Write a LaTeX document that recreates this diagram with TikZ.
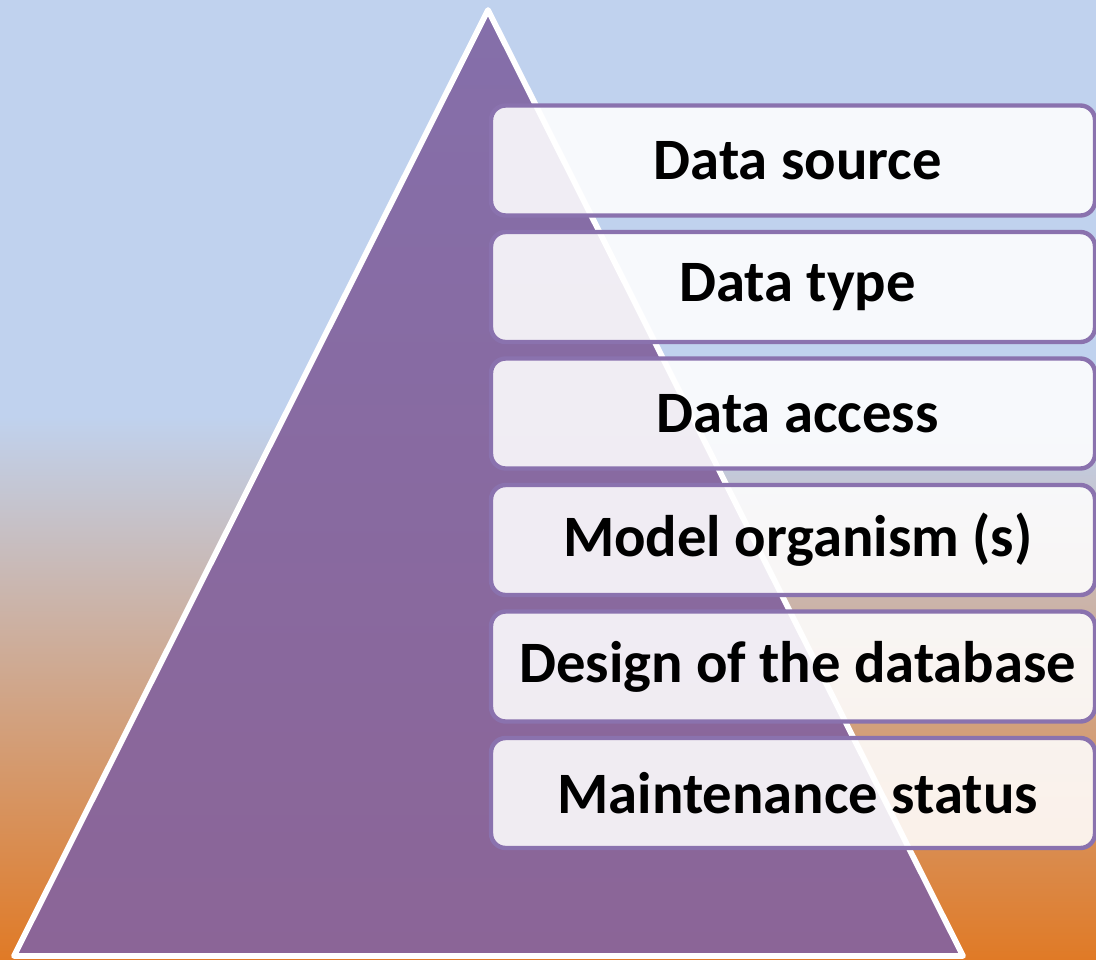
\documentclass[tikz,border=0pt]{standalone}
\usepackage{fontspec}
\setmainfont{Carlito}
\definecolor{bgblue}{RGB}{192,210,238}
\definecolor{bgorange}{RGB}{224,122,38}
\definecolor{tritop}{RGB}{133,111,170}
\definecolor{tribot}{RGB}{139,101,151}
\definecolor{boxborder}{RGB}{138,114,174}
\tikzset{
  itembox/.style={rectangle, rounded corners=11pt, draw=boxborder, line width=3.3pt,
    fill=white, fill opacity=0.88, text opacity=1, text=black,
    minimum width=453pt, minimum height=82.5pt, inner sep=0pt,
    font=\fontsize{44}{52}\selectfont\bfseries}
}
\begin{document}
\begin{tikzpicture}[x=0.75pt,y=-0.75pt]
\useasboundingbox (0,0) rectangle (1096,960);
\fill[bgblue] (0,0) rectangle (1096,418);
\shade[top color=bgblue,bottom color=bgorange] (0,416) rectangle (1096,960);
\coordinate (apex) at (488,10);
\coordinate (bl) at (14,956);
\coordinate (br) at (963,956);
\shade[top color=tritop,bottom color=tribot] (apex) -- (br) -- (bl) -- cycle;
\draw[white,line width=4.3pt,line join=round] (apex) -- (br) -- (bl) -- cycle;
\node[itembox] (b1) at (793,160.5) {\hspace*{7pt}Data source};
\node[itembox] (b2) at (793,287) {\hspace*{7pt}Data type};
\node[itembox] (b3) at (793,413.5) {\hspace*{7pt}Data access};
\node[itembox] (b4) at (793,540) {\hspace*{7pt}Model organism (s)};
\node[itembox] (b5) at (793,666.5) {\hspace*{7pt}Design of the database};
\node[itembox] (b6) at (793,793) {\hspace*{7pt}Maintenance status};
\end{tikzpicture}
\end{document}
